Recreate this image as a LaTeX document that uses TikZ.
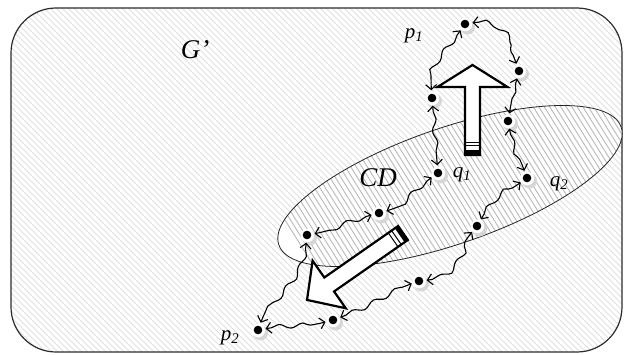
\documentclass[tikz,border=0pt]{standalone}
\usepackage{fontspec}
\setmainfont{Liberation Serif}
\usetikzlibrary{arrows.meta,decorations.pathmorphing}

\begin{document}
\begin{tikzpicture}[x=1pt,y=1pt,
  hatchbg/.style={draw=gray!24, line width=1pt},
  hatchcd/.style={draw=gray!55, line width=0.9pt},
  vertex/.style={circle, inner sep=0pt, minimum size=15pt},
  >={Straight Barb[length=5pt,width=11pt]},
  link/.style={draw=black, line width=1.1pt, <->, decorate,
    decoration={snake, amplitude=2.3pt, segment length=24pt,
      pre length=6pt, post length=6pt}},
  bigarrow/.style={draw=black, fill=white, line width=2.2pt, line join=miter},
  lbl/.style={font=\fontsize{21}{21}\selectfont\itshape, inner sep=0pt},
  biglbl/.style={font=\fontsize{27}{27}\selectfont\itshape, inner sep=0pt},
]
\useasboundingbox (0,0) rectangle (624,354);

% region G': rounded frame with light diagonal hatching
\begin{scope}
  \clip[rounded corners=45pt] (11,2) rectangle (622,346);
  \fill[white] (0,0) rectangle (624,354);
  \foreach \i in {-360,-354,...,630}
    \draw[hatchbg] (\i,354) -- ++(360,-360);
\end{scope}
\draw[draw=gray!35!black, line width=1.2pt, rounded corners=45pt]
  (11,2) rectangle (622,346);

% region CD: tilted ellipse with darker, steeper hatching
\begin{scope}
  \clip[rotate around={19:(450,168)}] (450,168) ellipse (181pt and 58pt);
  \fill[white] (260,80) rectangle (624,260);
  \foreach \i in {200,205.5,...,660}
    \draw[hatchcd] (\i,270) -- ++(130,-208);
\end{scope}
\draw[draw=gray!30!black, line width=0.8pt, rotate around={19:(450,168)}]
  (450,168) ellipse (181pt and 58pt);

% hollow block arrows
\begin{scope}[shift={(472.5,199)}, rotate=90]
  \draw[bigarrow] (0,-7.5) -- (68,-7.5) -- (68,-35) -- (90,0) -- (68,35)
    -- (68,7.5) -- (0,7.5) -- cycle;
  \fill (0,-7.5) rectangle (5,7.5);
  \draw[line width=1pt] (9.3,-7.5) -- (9.3,7.5) (12.7,-7.5) -- (12.7,7.5);
\end{scope}
\begin{scope}[shift={(403,121)}, rotate=214.9]
  \draw[bigarrow] (0,-8.5) -- (90,-8.5) -- (90,-29) -- (117,0) -- (90,29)
    -- (90,8.5) -- (0,8.5) -- cycle;
  \fill (0,-8.5) rectangle (4,8.5);
  \draw[line width=1pt] (8,-8.5) -- (8,8.5) (12,-8.5) -- (12,8.5);
\end{scope}

% vertices
\node[vertex] (p1) at (465,330) {};
\node[vertex] (a)  at (432,256) {};
\node[vertex] (b)  at (519,283) {};
\node[vertex] (c)  at (508,233) {};
\node[vertex] (q1) at (438,181) {};
\node[vertex] (q2) at (527,176) {};
\node[vertex] (m)  at (379,141) {};
\node[vertex] (l)  at (307,119) {};
\node[vertex] (pp) at (477,128) {};
\node[vertex] (o)  at (419,73) {};
\node[vertex] (n)  at (333,34) {};
\node[vertex] (p2) at (258,24) {};

% soft shadows under the vertices
\foreach \v in {p1,a,b,c,q1,q2,m,l,pp,o,n,p2} {
  \fill[gray!32] ([shift={(2.5,-3)}]\v.center) circle (7.5pt);
  \fill[white] ([shift={(0.3,-0.5)}]\v.center) circle (6.8pt);
}

% wavy two-way links
\draw[link] (p1) to[out=235,in=95]  (a);
\draw[link] (p1) to[out=10,in=110]  (b);
\draw[link] (b)  to[out=255,in=80]  (c);
\draw[link] (c)  to[out=280,in=110] (q2);
\draw[link] (a)  to[out=275,in=95]  (q1);
\draw[link] (q1) to[out=215,in=15]  (m);
\draw[link] (m)  to[out=195,in=10]  (l);
\draw[link] (l)  to[out=265,in=70]  (p2);
\draw[link] (p2) to[out=10,in=195]  (n);
\draw[link] (n)  to[out=20,in=200]  (o);
\draw[link] (o)  to[out=5,in=230]   (pp);
\draw[link] (pp) to[out=60,in=215]  (q2);

% vertex dots
\foreach \v in {p1,a,b,c,q1,q2,m,l,pp,o,n,p2}
  \fill[black] (\v.center) circle (4.3pt);

% labels
\node[biglbl] (lg)  at (195,304) {G’};
\node[biglbl] (lcd) at (378,176) {CD};
\node[lbl] (lp1) at (414,318) {p\textsubscript{1}};
\node[lbl] (lq1) at (462,179) {q\textsubscript{1}};
\node[lbl] (lq2) at (559,170) {q\textsubscript{2}};
\node[lbl] (lp2) at (230,16)  {p\textsubscript{2}};
\end{tikzpicture}
\end{document}
